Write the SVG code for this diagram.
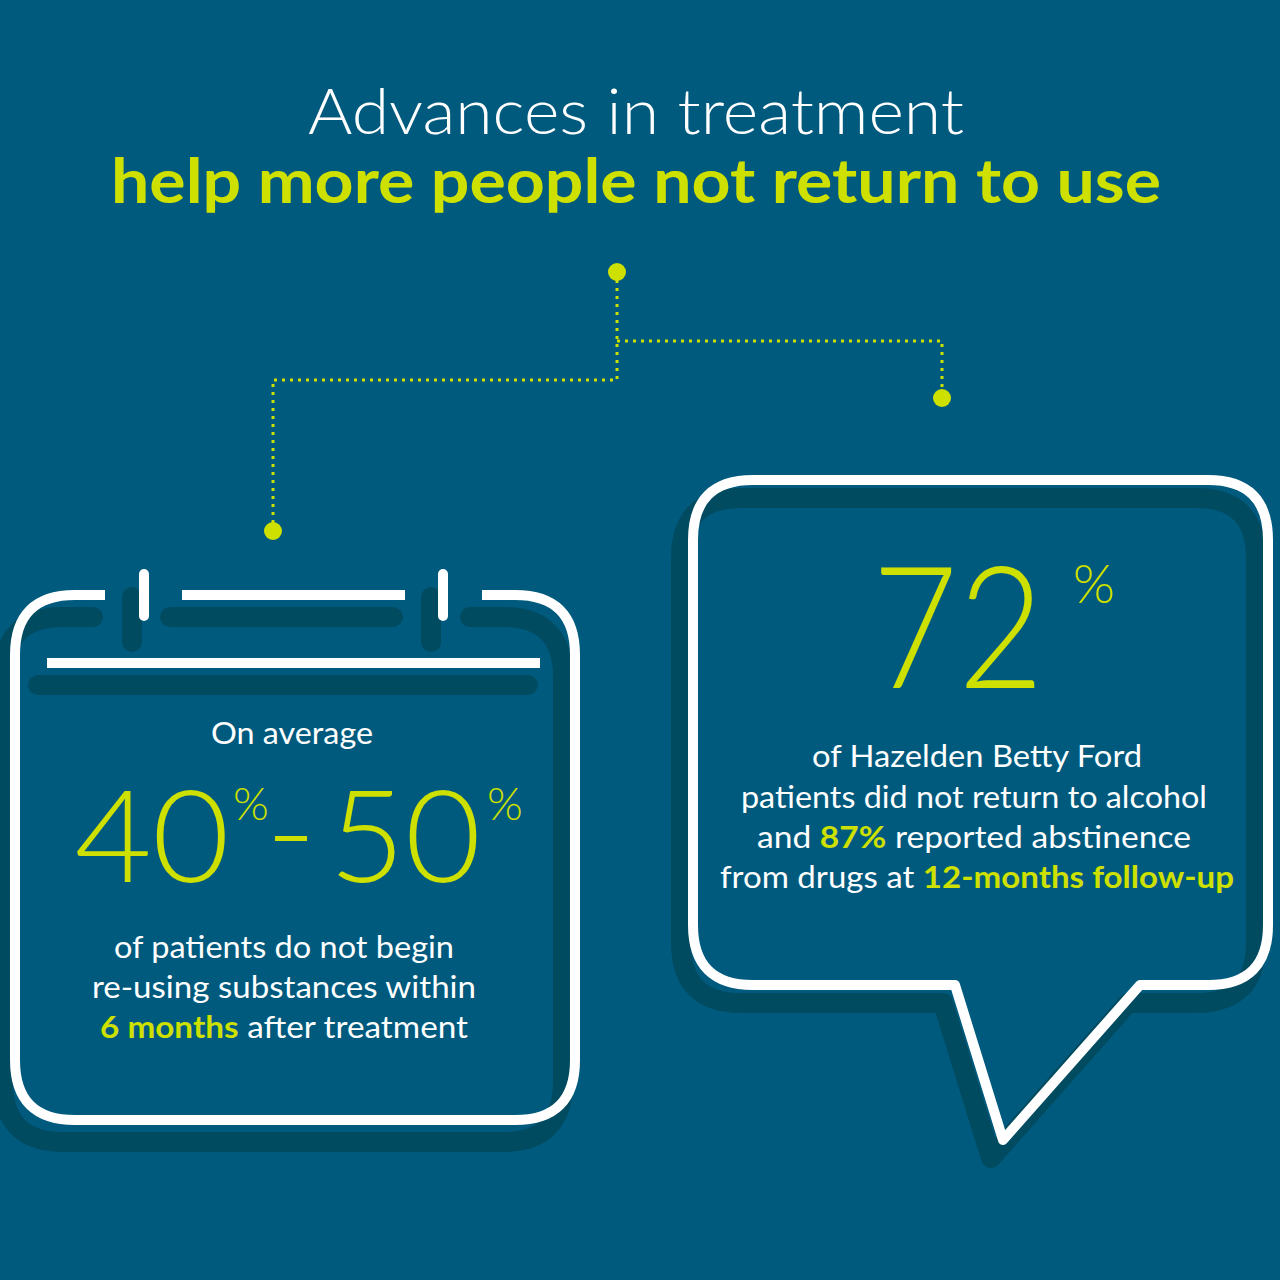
<svg xmlns="http://www.w3.org/2000/svg" width="1280" height="1280" viewBox="0 0 1280 1280">
<style>
.w{fill:none;stroke:#fff;stroke-width:10;stroke-linecap:round;stroke-linejoin:round}
.s{fill:none;stroke:#004b60;stroke-width:20;stroke-linecap:round;stroke-linejoin:round}
.sq{stroke-linecap:butt}
.dot{fill:none;stroke:#cde000;stroke-width:3;stroke-dasharray:3 5}
.t{font-family:Lato,"Liberation Sans",sans-serif;fill:#fff;text-anchor:middle}
.y{fill:#cde000}
.b{font-weight:bold}
</style>
<rect width="1280" height="1280" fill="#005a7e"/>
<g id="title">
<text class="t" x="636" y="134" font-size="64" font-weight="300" textLength="656" lengthAdjust="spacingAndGlyphs">Advances in treatment</text>
<text class="t y b" x="636" y="203" font-size="62" textLength="1050" lengthAdjust="spacingAndGlyphs">help more people not return to use</text>
</g>
<g id="connectors">
<path class="dot" d="M617 272V380H273V531"/>
<path class="dot" d="M617 341H942V398"/>
<circle cx="617" cy="272" r="9" fill="#cde000"/>
<circle cx="273" cy="531" r="9" fill="#cde000"/>
<circle cx="942" cy="398" r="9" fill="#cde000"/>
</g>
<g id="calendar">
<g transform="translate(-12,22)">
<path class="s" d="M105 595H75Q15 595 15 655V1060Q15 1120 75 1120H515Q575 1120 575 1060V655Q575 595 515 595H482"/>
<path class="s" d="M182 595H405"/>
<path class="s" d="M144 575V620M443 575V620"/>
<path class="s" d="M50 663H540"/>
</g>
<path class="w sq" d="M105 595H75Q15 595 15 655V1060Q15 1120 75 1120H515Q575 1120 575 1060V655Q575 595 515 595H482"/>
<path class="w sq" d="M182 595H405"/>
<path class="w" d="M144 574V616M443 574V616"/>
<path class="w sq" d="M47 663H540"/>
<text class="t" x="292" y="744" font-size="30" textLength="162" lengthAdjust="spacingAndGlyphs">On average</text>
<text class="t y" x="152" y="882" font-size="128" font-weight="300" textLength="155" lengthAdjust="spacingAndGlyphs">40</text>
<text class="t y" x="251" y="820" font-size="46" font-weight="300">%</text>
<rect x="275" y="836" width="32" height="5" fill="#cde000"/>
<text class="t y" x="405" y="882" font-size="128" font-weight="300" textLength="152" lengthAdjust="spacingAndGlyphs">50</text>
<text class="t y" x="505" y="820" font-size="46" font-weight="300">%</text>
<text class="t" font-size="30"><tspan x="284" y="958" textLength="340" lengthAdjust="spacingAndGlyphs">of patients do not begin</tspan><tspan x="284" y="998" textLength="384" lengthAdjust="spacingAndGlyphs">re-using substances within</tspan><tspan x="284" y="1038" textLength="368" lengthAdjust="spacingAndGlyphs"><tspan class="y b">6 months</tspan> after treatment</tspan></text>
</g>
<g id="bubble">
<path class="s" transform="translate(-12,18)" d="M753 480H1208Q1268 480 1268 540V925Q1268 985 1208 985H1140L1003 1140L955 985H753Q693 985 693 925V540Q693 480 753 480Z"/>
<path class="w" d="M753 480H1208Q1268 480 1268 540V925Q1268 985 1208 985H1140L1003 1140L955 985H753Q693 985 693 925V540Q693 480 753 480Z"/>
<text class="t y" x="958" y="688" font-size="170" font-weight="300" textLength="172" lengthAdjust="spacingAndGlyphs">72</text>
<text class="t y" x="1094" y="603" font-size="54" font-weight="300">%</text>
<text class="t" font-size="31"><tspan x="977" y="767" textLength="330" lengthAdjust="spacingAndGlyphs">of Hazelden Betty Ford</tspan><tspan x="974" y="808" textLength="466" lengthAdjust="spacingAndGlyphs">patients did not return to alcohol</tspan><tspan x="974" y="848" textLength="434" lengthAdjust="spacingAndGlyphs">and <tspan class="y b">87%</tspan> reported abstinence</tspan><tspan x="977" y="888" textLength="514" lengthAdjust="spacingAndGlyphs">from drugs at <tspan class="y b">12-months follow-up</tspan></tspan></text>
</g>
</svg>
